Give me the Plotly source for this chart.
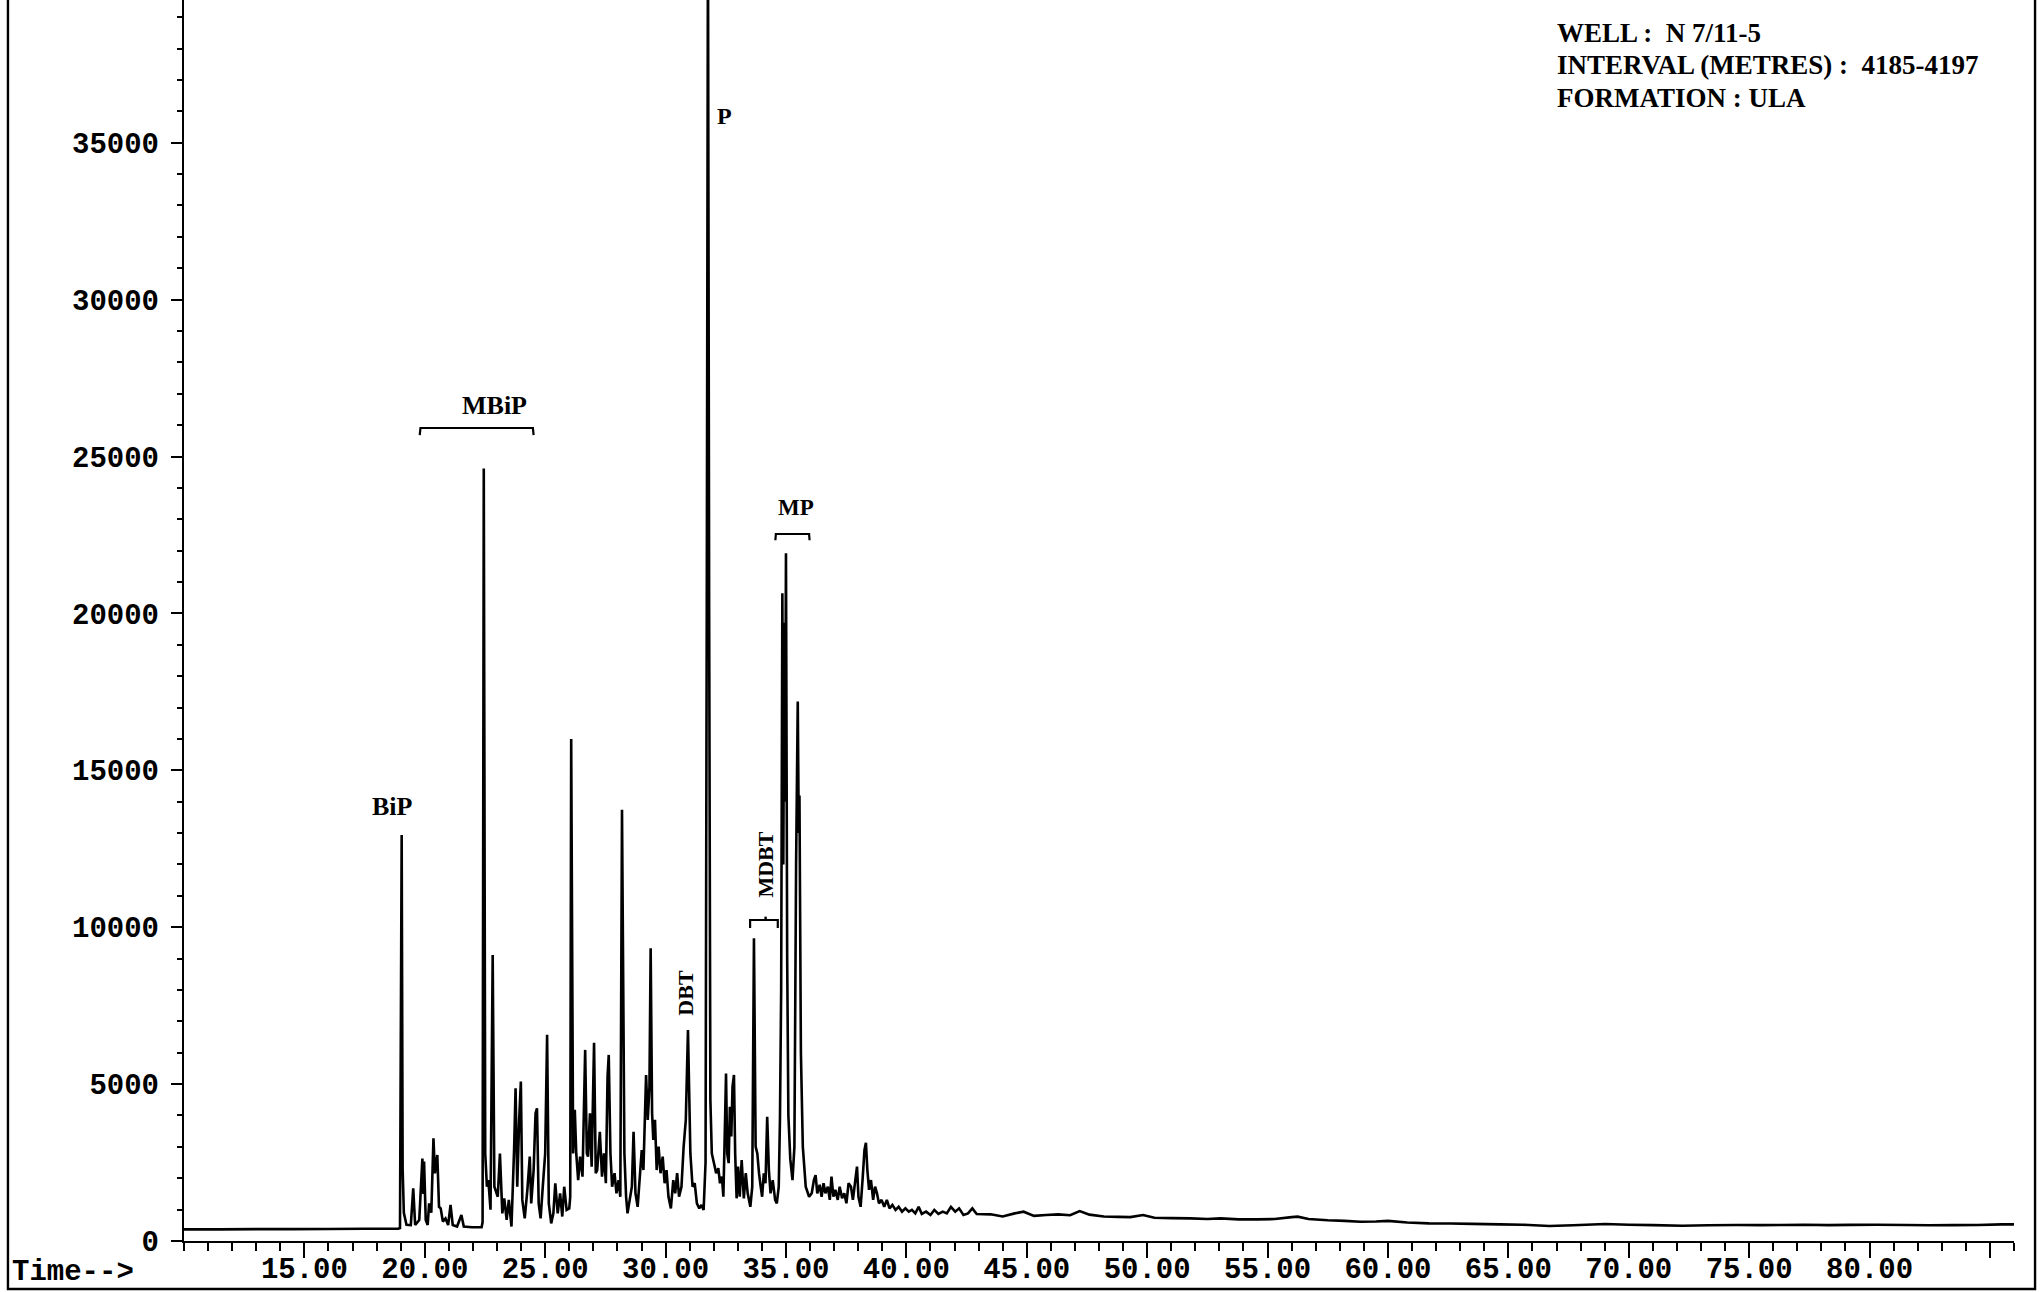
import plotly.graph_objects as go

# Total ion chromatogram: retention time (min) and detector abundance
retention_time = [
    10.0, 11.5, 13.0, 14.5, 16.0, 17.5, 18.9, 18.97,
    19.04, 19.08, 19.13, 19.24, 19.42, 19.52, 19.60, 19.77, 19.90, 19.94, 19.97, 20.04,
    20.12, 20.18, 20.27, 20.36, 20.42, 20.52, 20.59, 20.66, 20.75, 20.86, 20.97, 21.07,
    21.16, 21.34, 21.52, 21.62, 21.96, 22.36,
    22.40, 22.45, 22.51, 22.58, 22.64, 22.73, 22.82, 22.89, 23.03, 23.12, 23.22, 23.30,
    23.40, 23.49, 23.60, 23.71, 23.77, 23.84, 23.92, 23.99, 24.05, 24.15, 24.26, 24.36,
    24.42, 24.52, 24.60, 24.66, 24.73, 24.81, 24.90, 25.00, 25.08, 25.15, 25.25, 25.34,
    25.42, 25.52, 25.62, 25.71, 25.79, 25.89, 26.00, 26.04, 26.08, 26.16, 26.23, 26.29,
    26.37, 26.45, 26.55, 26.66, 26.73, 26.78, 26.86, 26.93, 27.03, 27.10, 27.16, 27.27,
    27.36, 27.44, 27.52, 27.59, 27.64, 27.71, 27.78, 27.88, 27.96, 28.05, 28.12, 28.19,
    28.29, 28.36, 28.42, 28.51, 28.60, 28.67, 28.75, 28.84, 28.92, 29.01, 29.08, 29.19,
    29.26, 29.33, 29.38, 29.44, 29.49, 29.56, 29.63, 29.71, 29.79, 29.88, 29.96, 30.04,
    30.12, 30.22, 30.32, 30.40, 30.48, 30.56, 30.66, 30.75, 30.84, 30.93,
    31.03, 31.12, 31.21, 31.30, 31.40, 31.49, 31.58, 31.66, 31.71, 31.76, 31.81, 31.86,
    31.92, 32.01, 32.10, 32.19, 32.26, 32.34, 32.40, 32.47, 32.51, 32.56, 32.62, 32.67,
    32.73, 32.78, 32.84, 32.89, 32.95, 33.01, 33.08, 33.16, 33.25, 33.33, 33.41, 33.52,
    33.60, 33.67, 33.74, 33.81, 33.88, 33.95, 34.01, 34.08, 34.15, 34.22, 34.29, 34.36,
    34.45, 34.55, 34.62, 34.70, 34.75, 34.80, 34.85, 34.89, 34.93, 34.96, 35.00, 35.05,
    35.10, 35.18, 35.27, 35.35, 35.42, 35.46, 35.49, 35.53, 35.56, 35.62, 35.70, 35.82,
    35.96, 36.07, 36.16, 36.23, 36.30, 36.40, 36.48, 36.56, 36.64, 36.74, 36.82, 36.89,
    36.97, 37.05, 37.15, 37.23, 37.33, 37.42, 37.51, 37.60, 37.70, 37.78, 37.88, 37.95,
    38.01, 38.10, 38.18, 38.26, 38.32, 38.38, 38.45, 38.53, 38.62, 38.70, 38.78, 38.86,
    38.97, 39.08, 39.19, 39.30, 39.42, 39.55, 39.68, 39.82, 39.96, 40.10, 40.23, 40.37,
    40.51, 40.64, 40.82, 41.00, 41.16, 41.33, 41.51, 41.68, 41.85, 42.03, 42.19, 42.37,
    42.56, 42.74, 42.92,
    43.5, 44.0, 44.5, 44.87, 45.3, 45.8, 46.3, 46.8, 47.2, 47.6, 48.2, 48.8,
    49.3, 49.83, 50.3, 51.0, 51.8, 52.5, 53.05, 53.8, 54.6, 55.3, 56.0, 56.25,
    56.7, 57.5, 58.2, 58.86, 59.5, 60.0, 60.8, 61.7, 62.6, 63.5, 64.65, 65.6,
    66.7, 67.7, 69.02, 70.0, 71.0, 72.23, 73.3, 74.5, 75.5, 76.3, 77.3, 78.3,
    79.2, 80.3, 81.5, 82.5, 83.5, 84.5, 85.5, 86.0,
]
abundance = [
    370, 372, 378, 380, 383, 388, 395, 410,
    12940, 2300, 900, 520, 510, 1680, 510, 670, 2630, 1500, 2530, 670,
    510, 1200, 900, 3270, 2160, 2740, 1090, 1040, 620, 720, 510, 1150,
    510, 460, 830, 460, 436, 440,
    600, 24620, 2790, 1730, 1940, 1000, 9110, 1730, 1410, 2790, 880, 1360,
    670, 1310, 460, 2950, 4870, 1730, 3860, 5080, 1310, 720, 1630, 2690,
    1200, 2260, 4070, 4230, 1200, 720, 1730, 2790, 6570, 1200, 560, 880,
    1840, 880, 1520, 780, 1730, 990, 1040, 1410, 16000, 2790, 4180, 2790,
    1940, 2690, 2050, 6090, 2790, 2690, 4070, 2370, 6320, 2160, 2260, 3480,
    2050, 2790, 1840, 5240, 5930, 2790, 1730, 2160, 1520, 1940, 1410, 13740,
    2790, 1410, 880, 1310, 1730, 3480, 1520, 1090, 1940, 2900, 2260, 5290,
    3860, 4920, 9330, 4070, 3220, 3860, 2260, 3010, 2160, 2690, 1840, 2260,
    1410, 1040, 1940, 1520, 2160, 1410, 1730, 3010, 3860, 6720,
    2790, 1730, 1840, 1200, 1040, 1150, 990, 2500, 20000, 42000, 20000, 4500,
    2790, 2480, 2160, 2320, 1840, 2050, 1410, 3860, 5340, 2790, 2480, 4280,
    3330, 4920, 5290, 2790, 1360, 2370, 1410, 2580, 1360, 2160, 1520, 1090,
    1730, 9650, 3010, 2790, 2160, 1730, 1410, 2160, 1840, 3960, 2260, 1520,
    1940, 1310, 1200, 1730, 3860, 8000, 20640, 12000, 19700, 14000, 21920, 9000,
    4000, 2600, 1940, 3000, 12000, 15000, 17190, 13000, 14200, 6000, 3000, 1730,
    1410, 1520, 1940, 2100, 1520, 1790, 1410, 1840, 1520, 1730, 1310, 2050,
    1410, 1630, 1310, 1730, 1360, 1520, 1200, 1840, 1730, 1310, 1940, 2370,
    1410, 1090, 1940, 2900, 3130, 2260, 1630, 1940, 1310, 1730, 1520, 1200,
    1310, 1090, 1310, 1040, 1150, 990, 1090, 935, 1040, 935, 990, 880,
    1090, 860, 935, 830, 990, 860, 935, 880, 1090, 935, 1040, 830,
    880, 1040, 860,
    850, 780, 880, 934, 800, 830, 850, 820, 955, 840, 780, 770,
    760, 828, 740, 730, 720, 700, 722, 690, 690, 700, 760, 775,
    700, 660, 640, 615, 620, 640, 590, 562, 560, 545, 530, 520,
    476, 500, 540, 520, 505, 487, 500, 510, 505, 510, 520, 505,
    515, 520, 510, 500, 505, 510, 530, 530,
]

# Axis ticks
x_tick_vals = [15, 20, 25, 30, 35, 40, 45, 50, 55, 60, 65, 70, 75, 80, 85]
x_tick_text = ["15.00", "20.00", "25.00", "30.00", "35.00", "40.00", "45.00",
               "50.00", "55.00", "60.00", "65.00", "70.00", "75.00", "80.00", ""]
y_tick_vals = [0, 5000, 10000, 15000, 20000, 25000, 30000, 35000]
y_tick_text = ["0", "5000", "10000", "15000", "20000", "25000", "30000", "35000"]

# Compound labels
peak_names = ["BiP", "MBiP", "P", "MP", "DBT", "MDBT"]

# Sample description
header_lines = [
    "WELL :\u00a0 N 7/11-5",
    "INTERVAL (METRES) :\u00a0 4185-4197",
    "FORMATION : ULA",
]

X_RANGE = [10, 86]
Y_RANGE = [0, 39548]
MONO = dict(family="Liberation Mono", size=29, color="black", weight="bold")


def serif(size):
    return dict(family="Liberation Serif", size=size, color="black", weight="bold")


fig = go.Figure()
fig.add_trace(go.Scatter(
    x=retention_time, y=abundance, mode="lines",
    line=dict(color="black", width=2.6, simplify=False),
    hoverinfo="skip", showlegend=False,
))

# label placement: (time, abundance, angle, font size)
label_place = {
    "BiP": (18.67, 13860, 0, 26),
    "MBiP": (22.88, 26640, 0, 26),
    "P": (32.44, 35860, 0, 24),
    "MP": (35.40, 23390, 0, 23),
    "DBT": (30.83, 7900, -90, 22),
    "MDBT": (34.15, 11980, -90, 22),
}
for name in peak_names:
    tx, ty, ang, fs = label_place[name]
    fig.add_annotation(x=tx, y=ty, xref="x", yref="y", text=name, showarrow=False,
                       textangle=ang, font=serif(fs), xanchor="center", yanchor="middle")

# group brackets over peak clusters
bracket_paths = [
    "M 19.79,25680 L 19.82,25908 L 24.49,25908 L 24.52,25680",
    "M 34.56,22330 L 34.58,22530 L 35.96,22530 L 35.98,22330",
    "M 33.51,9975 L 33.51,10229 L 34.15,10229 L 34.15,10335 L 34.17,10229 "
    "L 34.66,10229 L 34.66,9975",
]
for p in bracket_paths:
    fig.add_shape(type="path", path=p, xref="x", yref="y",
                  line=dict(color="black", width=2.2))

# outer frame of the print
fig.add_shape(type="path", xref="paper", yref="paper",
              path="M -0.0962,1.05 L -0.0962,-0.0387 L 1.0115,-0.0387 L 1.0115,1.05",
              line=dict(color="black", width=2.4))

fig.add_annotation(x=-0.0951, y=-0.0250, xref="paper", yref="paper", text="Time-->",
                   showarrow=False, xanchor="left", yanchor="middle", font=MONO)

header_y = [0.9738, 0.9476, 0.9214]
for line, hy in zip(header_lines, header_y):
    fig.add_annotation(x=0.7492, y=hy, xref="paper", yref="paper", text=line,
                       showarrow=False, xanchor="left", yanchor="middle",
                       font=serif(27))

fig.update_xaxes(
    range=X_RANGE, showgrid=False, zeroline=False, automargin=False,
    showline=True, linecolor="black", linewidth=2.4,
    ticks="outside", ticklen=15, tickwidth=2, tickcolor="black",
    tickmode="array", tickvals=x_tick_vals, ticktext=x_tick_text,
    tickfont=MONO, ticklabelstandoff=-15,
    minor=dict(ticks="outside", ticklen=8, tickwidth=2, tickcolor="black",
               tickmode="linear", tick0=10, dtick=1),
)
fig.update_yaxes(
    range=Y_RANGE, showgrid=False, zeroline=False, automargin=False,
    showline=True, linecolor="black", linewidth=2.4,
    ticks="outside", ticklen=11, tickwidth=2, tickcolor="black",
    tickmode="array", tickvals=y_tick_vals, ticktext=y_tick_text,
    tickfont=MONO, ticklabelstandoff=6,
    minor=dict(ticks="outside", ticklen=5, tickwidth=2, tickcolor="black",
               tickmode="linear", tick0=0, dtick=1000),
)
fig.update_layout(
    width=2040, height=1292,
    margin=dict(l=184, r=26, t=0, b=51),
    paper_bgcolor="white", plot_bgcolor="white",
    showlegend=False,
)

fig.write_html("out.html")
